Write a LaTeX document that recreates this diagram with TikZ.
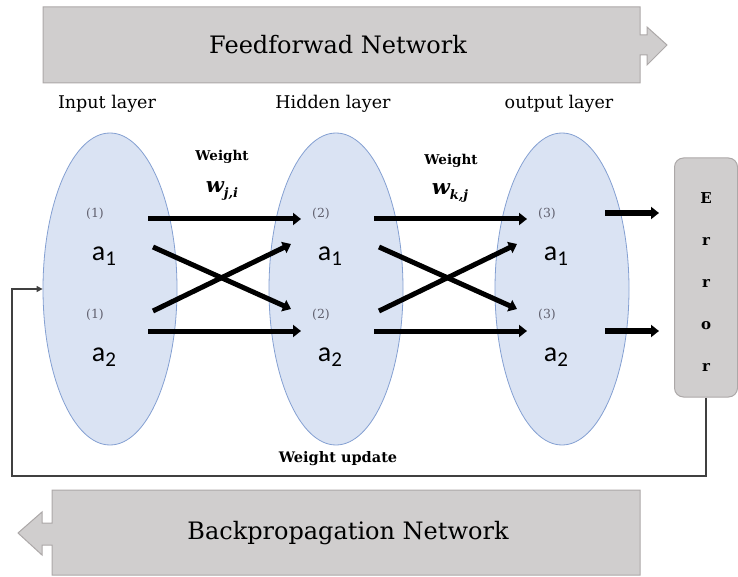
\documentclass[tikz,border=0pt]{standalone}
\usepackage{fontspec}
\setmainfont{DejaVu Serif}
\newfontfamily\actfont{Carlito}
\usetikzlibrary{calc,arrows.meta,shapes.geometric}

\definecolor{layerfill}{RGB}{218,227,243}
\definecolor{layerline}{RGB}{132,160,210}
\definecolor{boxfill}{RGB}{208,206,206}
\definecolor{boxline}{RGB}{172,168,168}
\definecolor{idxgray}{RGB}{96,96,110}

\newcommand{\act}[1]{{\actfont\fontsize{28}{28}\selectfont a\raisebox{-5pt}{\fontsize{21}{21}\selectfont #1}}}
\newcommand{\wsym}[1]{{\bfseries\itshape\fontsize{21}{21}\selectfont w\raisebox{-5pt}{\fontsize{13}{13}\selectfont #1}}}

\begin{document}
\begin{tikzpicture}[x=1pt,y=-1pt,
    layer/.style={ellipse,draw=layerline,fill=layerfill,line width=0.8pt,
        minimum width=134pt,minimum height=312pt,inner sep=0pt},
    idx/.style={text=idxgray,font=\fontsize{12.5}{12.5}\selectfont,inner sep=0pt},
    wire/.style={line width=5pt,-{Triangle[length=8pt,width=12pt]}},
    banner/.style={fill=boxfill,draw=boxline,line width=1pt},
    wlbl/.style={font=\bfseries\fontsize{13.5}{13.5}\selectfont,inner sep=0pt},
    fbline/.style={draw=black!75,line width=1.2pt,-{Triangle[length=6pt,width=6pt]}}]
    \useasboundingbox (0,0) rectangle (738,577);

    % forward and backward banners
    \draw[banner] (43,7) -- (640,7) -- (640,35) -- (647,35) -- (647,27) -- (667,45)
        -- (647,65) -- (647,55) -- (640,55) -- (640,83) -- (43,83) -- cycle;
    \draw[banner] (640,490) -- (52,490) -- (52,523) -- (42,523) -- (42,512) -- (18,533)
        -- (42,555) -- (42,545) -- (52,545) -- (52,575) -- (640,575) -- cycle;
    \node[font=\fontsize{24}{24}\selectfont] (ff) at (338,45) {Feedforwad Network};
    \node[font=\fontsize{24}{24}\selectfont] (bp) at (348,533) {Backpropagation Network};

    % layers
    \foreach \n/\cx/\k/\lbl in {in/110/1/Input layer, hid/336/2/Hidden layer, out/562/3/output layer}{
        \node[layer] (\n) at (\cx,289) {};
        \node[font=\fontsize{17.5}{17.5}\selectfont] (\n-title) at (\cx-3,104) {\lbl};
        \node[idx] (\n-i1) at ($(\n)+(-15,-75)$) {(\k)};
        \node[idx] (\n-i2) at ($(\n)+(-15,26)$) {(\k)};
        \node (\n-a1) at ($(\n)+(-6,-33)$) {\act{1}};
        \node (\n-a2) at ($(\n)+(-6,68)$) {\act{2}};
        \coordinate (\n-ot) at ($(\n)+(38,-70)$);
        \coordinate (\n-ob) at ($(\n)+(38,42)$);
        \coordinate (\n-oxt) at ($(\n)+(43,-42)$);
        \coordinate (\n-oxb) at ($(\n)+(43,22)$);
        \coordinate (\n-it) at ($(\n)+(-35,-70)$);
        \coordinate (\n-ib) at ($(\n)+(-35,42)$);
        \coordinate (\n-ixt) at ($(\n)+(-45,-45)$);
        \coordinate (\n-ixb) at ($(\n)+(-45,20)$);
    }

    \foreach \s/\t in {in/hid, hid/out}{
        \draw[wire] (\s-ot) -- (\t-it);
        \draw[wire] (\s-ob) -- (\t-ib);
        \draw[wire] (\s-oxt) -- (\t-ixb);
        \draw[wire] (\s-oxb) -- (\t-ixt);
    }

    \node[wlbl] (w1) at (222,157) {Weight};
    \node (w1sym) at (222,191) {\wsym{j,i}};
    \node[wlbl] (w2) at (451,161) {Weight};
    \node (w2sym) at (450,193) {\wsym{k,j}};

    % error box and feedback
    \node[banner,rounded corners=9pt,minimum width=63pt,minimum height=239pt] (err) at (706,277.5) {};
    \node[font=\bfseries\fontsize{15}{42}\selectfont,align=center] (errtxt) at ($(err)+(0,5)$) {E\\r\\r\\o\\r};
    \coordinate (out-rt) at ($(out)+(43,-76)$);
    \coordinate (out-rb) at ($(out)+(43,42)$);
    \draw[wire,line width=6.5pt,shorten >=15pt] (out-rt) -- (out-rt -| err.west);
    \draw[wire,line width=6.5pt,shorten >=15pt] (out-rb) -- (out-rb -| err.west);

    \coordinate (fb) at (12,476);
    \draw[fbline] (err.south) |- (fb) |- (in.west);
    \node[wlbl,font=\bfseries\fontsize{14.5}{14.5}\selectfont] (upd) at (338,459) {Weight update};
\end{tikzpicture}
\end{document}
